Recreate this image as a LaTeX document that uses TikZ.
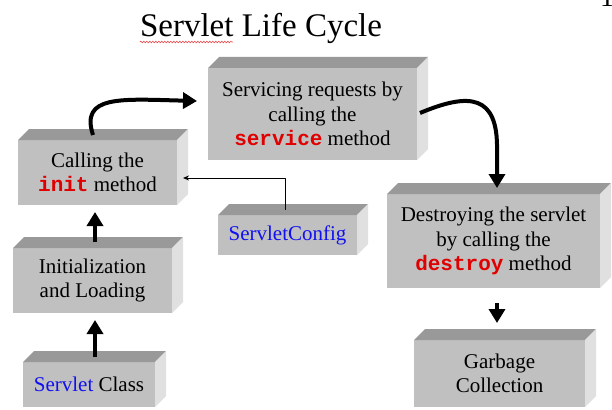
\documentclass[tikz,border=0pt]{standalone}
\usepackage{fontspec}
\setmainfont{Liberation Serif}
\setmonofont{Liberation Mono}
\usetikzlibrary{arrows.meta,calc,decorations.pathmorphing}
\definecolor{FrontGray}{HTML}{C0C0C0}
\definecolor{TopGray}{HTML}{999999}
\definecolor{SideGray}{HTML}{E0E0E0}
\definecolor{CodeRed}{HTML}{E00000}
\definecolor{NameBlue}{HTML}{1010F0}
\newcommand{\code}[1]{\textcolor{CodeRed}{\texttt{\bfseries #1}}}
\newcommand{\slabdepth}{11}

\begin{document}
\begin{tikzpicture}[x=1pt,y=-1pt, line join=round,
  slab/.style={fill=FrontGray, inner sep=0pt, outer sep=0pt, align=center,
               font=\fontsize{21}{24.5}\selectfont},
  bigarrow/.style={-{Triangle[length=14pt,width=16pt]}, line width=4pt},
  thinarrow/.style={-{Stealth[length=6pt,width=5pt]}, line width=1pt}]

\fill[white] (0,0) rectangle (612,409);
\useasboundingbox (0,0) rectangle (612,409);

% title
\node[anchor=base, inner sep=0pt, font=\fontsize{33}{36}\selectfont] (title) at (261,37) {Servlet Life Cycle};
\draw[CodeRed!70, line width=0.6, decorate, decoration={snake, segment length=3, amplitude=0.9}]
  ($(title.base west)+(0,5)$) -- ++(93,0);
\node[anchor=base, inner sep=0pt, font=\fontsize{28}{30}\selectfont] (pagenum) at (607,7) {1};

% front faces
\node[slab, minimum width=159, minimum height=65] (init) at (97.5,172.5) {Calling the\\\code{init} method};
\node[slab, minimum width=209, minimum height=92] (service) at (312.5,114) {Servicing requests by\\calling the\\\code{service} method};
\node[slab, minimum width=213, minimum height=94] (destroy) at (493.5,241) {Destroying the servlet\\by calling the\\\code{destroy} method};
\node[slab, minimum width=159, minimum height=65] (load) at (92.5,280.5) {Initialization\\and Loading};
\node[slab, minimum width=132, minimum height=45] (class) at (89,384.5) {\textcolor{NameBlue}{Servlet} Class};
\node[slab, minimum width=139, minimum height=40] (config) at (287.5,235) {\textcolor{NameBlue}{ServletConfig}};
\node[slab, minimum width=171, minimum height=67] (gc) at (499.5,373.5) {Garbage\\Collection};

% top and side faces
\foreach \n in {init,service,destroy,load,class,config,gc} {
  \fill[TopGray] (\n.north west) -- ++(\slabdepth,-\slabdepth) -- ($(\n.north east)+(\slabdepth,-\slabdepth)$) -- (\n.north east) -- cycle;
  \fill[SideGray] (\n.north east) -- ++(\slabdepth,-\slabdepth) -- ($(\n.south east)+(\slabdepth,-\slabdepth)$) -- (\n.south east) -- cycle;
}

% arrows
\draw[bigarrow] ($(class.north)+(6,-5)$) -- ($(load.south)+(2.5,7)$);
\draw[bigarrow] ($(load.north)+(2.5,-6)$) -- ($(init.south)+(-2.5,7)$);
\draw[bigarrow] ($(init.north)+(-4.5,-5)$) .. controls (80,95) and (120,99) .. ($(service.west)+(-11,-13)$);
\draw[bigarrow] ($(service.east)+(3,-1)$) .. controls (470,92) and (498,95) .. (497,150) -- ($(destroy.north)+(3.5,-6)$);
\draw[bigarrow] ($(destroy.south)+(3.5,15)$) -- ($(gc.north)+(-2.5,-17)$);
\draw[thinarrow] ($(config.north)+(-2.5,-5)$) |- ($(init.east)+(6,5.5)$);

\end{tikzpicture}
\end{document}
